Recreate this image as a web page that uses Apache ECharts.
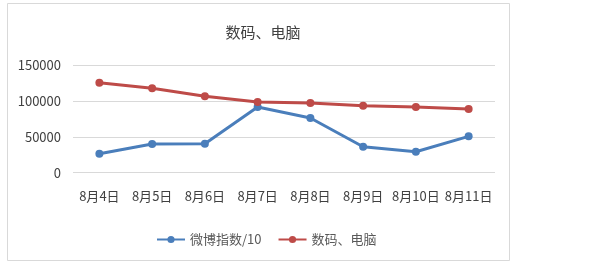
<!DOCTYPE html>
<html><head><meta charset="utf-8">
<script src="https://cdn.jsdelivr.net/npm/echarts@6/dist/echarts.min.js"></script>
<style>html,body{margin:0;padding:0;background:#fff}#c{width:605px;height:268px}</style>
</head><body><div id="c"></div>
<script>
const categories = ['8月4日','8月5日','8月6日','8月7日','8月8日','8月9日','8月10日','8月11日'];
const weiboIndex10 = [26500, 40000, 40500, 91700, 76400, 36300, 29300, 50800];
const digitalPC = [125700, 117900, 106700, 98700, 97300, 93600, 91800, 89000];
const yTicks = [0, 50000, 100000, 150000];
const FONT = '"Noto Sans CJK SC", "Liberation Sans", sans-serif';
const chart = echarts.init(document.getElementById('c'));
chart.setOption({
  animation: false,
  backgroundColor: '#fff',
  title: { text: '数码、电脑', left: 258, top: 20, textAlign: 'center',
    textStyle: { fontFamily: FONT, fontSize: 15, fontWeight: 'normal', color: '#404040' } },
  graphic: [{ type: 'rect', shape: { x: 7.5, y: 3.5, width: 502, height: 257 },
    style: { fill: 'none', stroke: '#d9d9d9', lineWidth: 1 }, silent: true, z: -1 }],
  legend: { left: 151, top: 228, itemWidth: 28, itemHeight: 9, itemGap: 16,
    textStyle: { fontFamily: FONT, fontSize: 13, color: '#595959' },
    data: ['微博指数/10', '数码、电脑'] },
  grid: { left: 73, right: 110, top: 65.3, bottom: 95.3 },
  xAxis: { type: 'category', data: categories, boundaryGap: true,
    axisLine: { show: false }, axisTick: { show: false },
    axisLabel: { interval: 0, margin: 17, fontFamily: FONT, fontSize: 13, color: '#404040' } },
  yAxis: { type: 'value', min: 0, max: 150000, interval: 50000,
    axisLine: { show: false }, axisTick: { show: false },
    splitLine: { lineStyle: { color: '#d9d9d9', width: 1 } },
    axisLabel: { margin: 12, fontFamily: FONT, fontSize: 13, color: '#404040',
      formatter: v => yTicks.includes(v) ? String(v) : '' } },
  series: [
    { name: '微博指数/10', type: 'line', data: weiboIndex10, symbol: 'circle', symbolSize: 8,
      lineStyle: { color: '#4a7ebb', width: 3 }, itemStyle: { color: '#4a7ebb' } },
    { name: '数码、电脑', type: 'line', data: digitalPC, symbol: 'circle', symbolSize: 8,
      lineStyle: { color: '#be4b48', width: 3 }, itemStyle: { color: '#be4b48' } }
  ]
});
</script></body></html>
